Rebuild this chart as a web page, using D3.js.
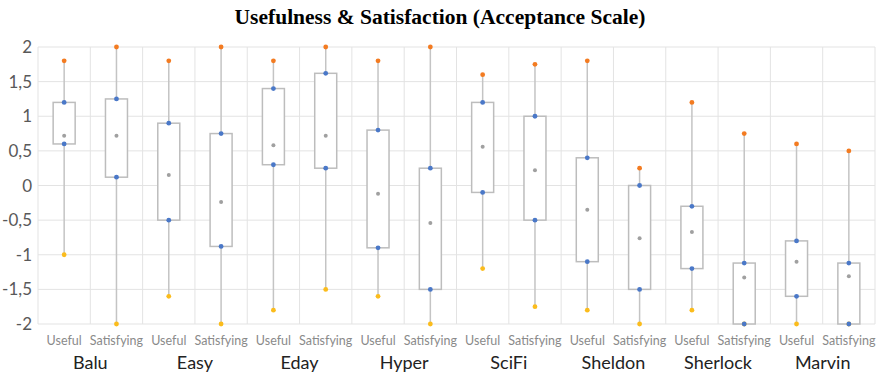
<!DOCTYPE html>
<html>
<head>
<meta charset="utf-8">
<script src="https://cdn.jsdelivr.net/npm/d3@7"></script>
<style>
  body { margin: 0; background: #fff; }
</style>
</head>
<body>
<script>
var groups = ['Balu', 'Easy', 'Eday', 'Hyper', 'SciFi', 'Sheldon', 'Sherlock', 'Marvin'];
var kinds = ['Useful', 'Satisfying'];
// one entry per column, in order: Balu Useful, Balu Satisfying, Easy Useful ...
var maxVals  = [1.8, 2, 1.8, 2, 1.8, 2, 1.8, 2, 1.6, 1.75, 1.8, 0.25, 1.2, 0.75, 0.6, 0.5];
var q3Vals   = [1.2, 1.25, 0.9, 0.75, 1.4, 1.62, 0.8, 0.25, 1.2, 1.0, 0.4, 0, -0.3, -1.12, -0.8, -1.12];
var meanVals = [0.72, 0.72, 0.15, -0.24, 0.58, 0.72, -0.12, -0.54, 0.56, 0.22, -0.35, -0.76, -0.67, -1.33, -1.1, -1.31];
var q1Vals   = [0.6, 0.12, -0.5, -0.88, 0.3, 0.25, -0.9, -1.5, -0.1, -0.5, -1.1, -1.5, -1.2, -2, -1.6, -2];
var minVals  = [-1, -2, -1.6, -2, -1.8, -1.5, -1.6, -2, -1.2, -1.75, -1.8, -2, -1.8, -2, -2, -2];
var yTicks = [2, 1.5, 1, 0.5, 0, -0.5, -1, -1.5, -2];
var yTickLabels = ['2', '1,5', '1', '0,5', '0', '-0,5', '-1', '-1,5', '-2'];

var screen = { width: 880, height: 377 };
var margins = { left: 38, right: 5, top: 47, bottom: 53 };

var svg = d3.select('body').append('svg')
            .attr('width', screen.width)
            .attr('height', screen.height);

var columns = [];
groups.forEach(function(g, gi){
  kinds.forEach(function(k, ki){
    var i = gi * 2 + ki;
    columns.push({ id: i, group: g, kind: k,
                   max: maxVals[i], q3: q3Vals[i], mean: meanVals[i], q1: q1Vals[i], min: minVals[i] });
  });
});

var xScale = d3.scaleBand()
               .domain(d3.range(columns.length))
               .range([margins.left, screen.width - margins.right]);
var yScale = d3.scaleLinear()
               .domain([-2, 2])
               .range([screen.height - margins.bottom, margins.top]);

// title
svg.append('text')
   .attr('x', 440).attr('y', 24)
   .attr('text-anchor', 'middle')
   .attr('font-family', 'Liberation Serif, Times New Roman, serif')
   .attr('font-weight', 'bold')
   .attr('font-size', 21.5)
   .attr('fill', '#000')
   .text('Usefulness & Satisfaction (Acceptance Scale)');

// grid
var grid = svg.append('g').classed('grid', true);
grid.selectAll('line.h')
    .data(yTicks).enter().append('line')
    .attr('x1', margins.left).attr('x2', screen.width - margins.right)
    .attr('y1', function(d){ return yScale(d); })
    .attr('y2', function(d){ return yScale(d); })
    .attr('stroke', '#e3e3e3').attr('stroke-width', 1);
var bounds = d3.range(columns.length + 1);
grid.selectAll('line.v')
    .data(bounds).enter().append('line')
    .attr('x1', function(d){ return margins.left + d * xScale.step(); })
    .attr('x2', function(d){ return margins.left + d * xScale.step(); })
    .attr('y1', yScale(2)).attr('y2', yScale(-2))
    .attr('stroke', '#e3e3e3').attr('stroke-width', 1);

// y tick labels
svg.append('g').selectAll('text')
   .data(yTicks).enter().append('text')
   .attr('x', 32)
   .attr('y', function(d){ return yScale(d); })
   .attr('dy', '0.36em')
   .attr('text-anchor', 'end')
   .attr('font-family', 'Lato, Open Sans, sans-serif')
   .attr('font-size', 17)
   .attr('fill', '#595959')
   .text(function(d, i){ return yTickLabels[i]; });

// boxes
var boxW = 22;
var cols = svg.append('g').selectAll('g')
              .data(columns).enter().append('g')
              .attr('transform', function(d){ return 'translate(' + (xScale(d.id) + xScale.bandwidth() / 2) + ',0)'; })
              .each(function(d){
                var g = d3.select(this);
                g.append('line')
                 .attr('x1', 0).attr('x2', 0)
                 .attr('y1', yScale(d.max)).attr('y2', yScale(d.min))
                 .attr('stroke', '#c4c4c4').attr('stroke-width', 1.5);
                g.append('rect')
                 .attr('x', -boxW / 2)
                 .attr('y', yScale(d.q3))
                 .attr('width', boxW)
                 .attr('height', yScale(d.q1) - yScale(d.q3))
                 .attr('fill', '#fff')
                 .attr('stroke', '#bdbdbd').attr('stroke-width', 1.5);
                var pts = [
                  { v: d.max, c: '#f37b21' },
                  { v: d.min, c: '#fbbc1c' },
                  { v: d.q3, c: '#4a78c8' },
                  { v: d.q1, c: '#4a78c8' },
                  { v: d.mean, c: '#a0a0a0' }
                ];
                g.selectAll('circle').data(pts).enter().append('circle')
                 .attr('cx', 0)
                 .attr('cy', function(p){ return yScale(p.v); })
                 .attr('r', function(p){ return p.c == '#a0a0a0' ? 2 : 2.4; })
                 .attr('fill', function(p){ return p.c; });
              });

// x labels
svg.append('g').selectAll('text')
   .data(columns).enter().append('text')
   .attr('x', function(d){ return xScale(d.id) + xScale.bandwidth() / 2; })
   .attr('y', 345)
   .attr('text-anchor', 'middle')
   .attr('font-family', 'Lato, Open Sans, sans-serif')
   .attr('font-size', 12.5)
   .attr('fill', '#8a8a8a')
   .text(function(d){ return d.kind; });

svg.append('g').selectAll('text')
   .data(groups).enter().append('text')
   .attr('x', function(d, i){ return xScale(i * 2) + xScale.step(); })
   .attr('y', 369)
   .attr('text-anchor', 'middle')
   .attr('font-family', 'Lato, Open Sans, sans-serif')
   .attr('font-size', 18)
   .attr('fill', '#222')
   .text(function(d){ return d; });
</script>
</body>
</html>
